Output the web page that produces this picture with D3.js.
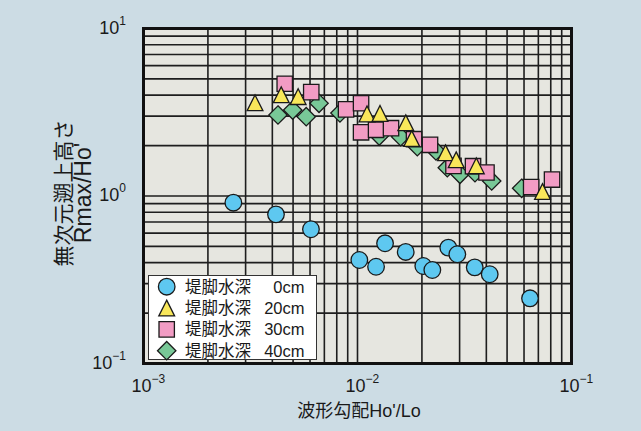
<!DOCTYPE html>
<html>
<head>
<meta charset="utf-8">
<script src="https://cdn.jsdelivr.net/npm/d3@7"></script>
<style>
  html, body { margin: 0; padding: 0; background: #ccdce4; }
  svg { display: block; }
  text { font-family: "Liberation Sans", Arial, "Noto Sans CJK JP", sans-serif; fill: #1a1a1a; }
</style>
</head>
<body>
<svg id="chart" width="641" height="431"></svg>
<script>
// Wave steepness Ho'/Lo and dimensionless run-up Rmax/Ho' for each toe depth
const depth0x  = [0.00263, 0.00416, 0.00606, 0.0102, 0.01221, 0.01345, 0.0168, 0.0203, 0.02237, 0.02657, 0.02927, 0.0353, 0.04148, 0.064];
const depth0y  = [0.912, 0.777, 0.633, 0.415, 0.378, 0.522, 0.4635, 0.382, 0.3615, 0.4915, 0.449, 0.375, 0.341, 0.245];

const depth20x = [0.00332, 0.0044, 0.00528, 0.01108, 0.01274, 0.01681, 0.01792, 0.02578, 0.02892, 0.03591, 0.0732];
const depth20y = [3.60, 4.02, 3.92, 3.09, 3.11, 2.735, 2.204, 1.811, 1.645, 1.514, 1.064];

const depth30x = [0.00457, 0.00608, 0.00884, 0.01039, 0.01039, 0.01221, 0.01434, 0.01837, 0.02182, 0.02809, 0.03466, 0.04006, 0.0648, 0.0811];
const depth30y = [4.68, 4.17, 3.29, 3.58, 2.40, 2.485, 2.54, 2.183, 2.021, 1.514, 1.506, 1.381, 1.132, 1.254];

const depth40x = [0.00425, 0.00498, 0.00576, 0.00661, 0.00828, 0.01264, 0.01591, 0.01903, 0.02327, 0.02628, 0.03013, 0.0354, 0.04237, 0.0585];
const depth40y = [3.045, 3.26, 2.975, 3.575, 3.13, 2.281, 2.26, 1.969, 1.857, 1.476, 1.348, 1.377, 1.229, 1.112];

const legendLabels = ["堤脚水深", "堤脚水深", "堤脚水深", "堤脚水深"];
const legendDepths = ["0cm", "20cm", "30cm", "40cm"];

const xTickValues = [1e-3, 1e-2, 1e-1];
const xTickExp    = ["−3", "−2", "−1"];
const yTickValues = [1e-1, 1e0, 1e1];
const yTickExp    = ["−1", "0", "1"];

const xTitleText = "波形勾配Ho'/Lo";
const yTitleLine1 = "無次元遡上高さ";
const yTitleLine2 = "Rmax/Ho'";

// ---- layout ----
const svg = d3.select("#chart");
const plotLeft = 143.5, plotRight = 571.5, plotTop = 28.5, plotBottom = 363.5;

const x = d3.scaleLog().domain([1e-3, 1e-1]).range([plotLeft, plotRight]);
const y = d3.scaleLog().domain([1e-1, 1e1]).range([plotBottom, plotTop]);

// plot background
svg.append("rect")
  .attr("x", plotLeft).attr("y", plotTop)
  .attr("width", plotRight - plotLeft).attr("height", plotBottom - plotTop)
  .attr("fill", "#e6e6e0");

// log grid (major and minor lines)
const xGrid = x.ticks();
const yGrid = y.ticks();
svg.append("g")
  .selectAll("line").data(xGrid).join("line")
  .attr("x1", d => x(d)).attr("x2", d => x(d))
  .attr("y1", plotTop).attr("y2", plotBottom)
  .attr("stroke", "#1e1e1e").attr("stroke-width", 1.6);
svg.append("g")
  .selectAll("line").data(yGrid).join("line")
  .attr("y1", d => y(d)).attr("y2", d => y(d))
  .attr("x1", plotLeft).attr("x2", plotRight)
  .attr("stroke", "#1e1e1e").attr("stroke-width", 1.6);

// marker shapes
const shapes = {
  circle: (s) => `M${s},0A${s},${s} 0 1,1 ${-s},0A${s},${s} 0 1,1 ${s},0Z`,
  triangle: (s) => `M0,${-s}L${s},${s}L${-s},${s}Z`,
  square: (s) => `M${-s},${-s}H${s}V${s}H${-s}Z`,
  diamond: (s) => `M0,${-s}L${s},0L0,${s}L${-s},0Z`
};

const series = [
  { xs: depth0x,  ys: depth0y,  shape: "circle",   size: 8.3, fill: "#5ec8f0" },
  { xs: depth40x, ys: depth40y, shape: "diamond",  size: 9.2, fill: "#78c897" },
  { xs: depth30x, ys: depth30y, shape: "square",   size: 7.7, fill: "#f29cc4" },
  { xs: depth20x, ys: depth20y, shape: "triangle", size: 7.9, fill: "#f9e75a" }
];

const marks = svg.append("g");
series.forEach(s => {
  const pts = s.xs.map((v, i) => [v, s.ys[i]]);
  marks.append("g").selectAll("path").data(pts).join("path")
    .attr("transform", d => `translate(${x(d[0])},${y(d[1])})`)
    .attr("d", shapes[s.shape](s.size))
    .attr("fill", s.fill)
    .attr("stroke", "#1a1a1a").attr("stroke-width", 1.3)
    .attr("stroke-linejoin", "miter");
});

// frame
svg.append("rect")
  .attr("x", plotLeft).attr("y", plotTop)
  .attr("width", plotRight - plotLeft).attr("height", plotBottom - plotTop)
  .attr("fill", "none").attr("stroke", "#111").attr("stroke-width", 3);

// x tick labels: 10 with superscript exponent
const xl = svg.append("g");
xTickValues.forEach((v, i) => {
  const t = xl.append("text")
    .attr("x", x(v) - 12).attr("y", 392)
    .attr("font-size", 18);
  t.append("tspan").text("10");
  t.append("tspan").attr("dy", -9).attr("font-size", 12).text(xTickExp[i]);
});

// y tick labels
const yl = svg.append("g");
yTickValues.forEach((v, i) => {
  const t = yl.append("text")
    .attr("x", 126).attr("y", y(v) + 5)
    .attr("text-anchor", "end")
    .attr("font-size", 18);
  t.append("tspan").text("10");
  t.append("tspan").attr("dy", -9).attr("font-size", 12).text(yTickExp[i]);
});

// axis titles
svg.append("text")
  .attr("x", 359).attr("y", 417)
  .attr("text-anchor", "middle")
  .attr("font-size", 18)
  .text(xTitleText);

const yt = svg.append("g").attr("transform", "translate(0,193) rotate(-90)");
yt.append("text")
  .attr("x", 0).attr("y", 71)
  .attr("text-anchor", "middle")
  .attr("font-size", 21)
  .text(yTitleLine1);
yt.append("text")
  .attr("x", 0).attr("y", 91)
  .attr("text-anchor", "middle")
  .attr("font-size", 23)
  .text(yTitleLine2);

// legend
const lg = svg.append("g");
lg.append("rect")
  .attr("x", 148.5).attr("y", 275.5)
  .attr("width", 168).attr("height", 84)
  .attr("fill", "#ffffff").attr("stroke", "#333").attr("stroke-width", 1);
const legendSeries = [series[0], series[3], series[2], series[1]];
const rowY = d3.scaleLinear().domain([0, 3]).range([286.7, 350.7]);
legendSeries.forEach((s, i) => {
  lg.append("path")
    .attr("transform", `translate(166.7,${rowY(i)})`)
    .attr("d", shapes[s.shape](s.size))
    .attr("fill", s.fill)
    .attr("stroke", "#1a1a1a").attr("stroke-width", 1.3);
  lg.append("text")
    .attr("x", 185).attr("y", rowY(i) + 6)
    .attr("font-size", 16.5)
    .text(legendLabels[i]);
  lg.append("text")
    .attr("x", 304.5).attr("y", rowY(i) + 6)
    .attr("text-anchor", "end")
    .attr("font-size", 16.5)
    .text(legendDepths[i]);
});
</script>
</body>
</html>
